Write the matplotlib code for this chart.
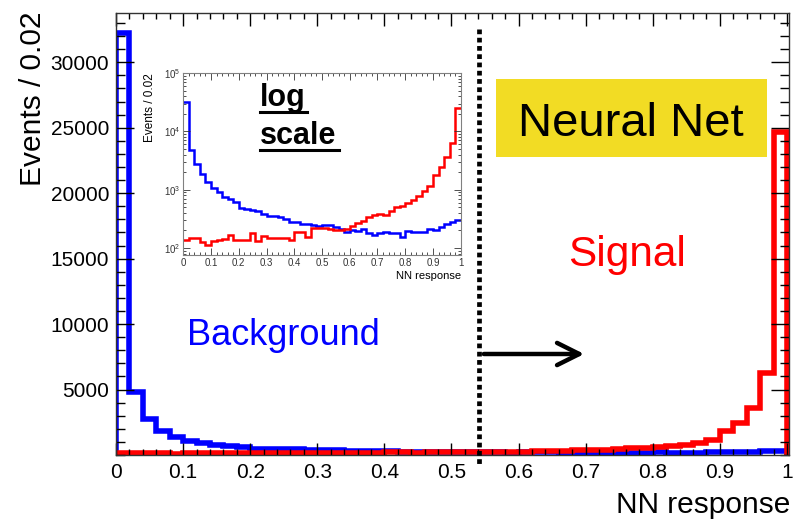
import numpy as np
import matplotlib
matplotlib.use("Agg")
import matplotlib.pyplot as plt
from matplotlib.ticker import MultipleLocator, FixedLocator, FuncFormatter, LogLocator, NullFormatter
from matplotlib.patches import Rectangle, FancyArrowPatch
from matplotlib.lines import Line2D

plt.rcParams["font.family"] = ["Liberation Sans", "DejaVu Sans"]
plt.rcParams["mathtext.fontset"] = "custom"
plt.rcParams["mathtext.rm"] = "Liberation Sans"
plt.rcParams["mathtext.it"] = "Liberation Sans:italic"

# NN response histograms, 50 bins of width 0.02
bin_edges = np.linspace(0.0, 1.0, 51)
background = [32200, 4830, 2720, 1850, 1380, 1070, 925, 760, 700, 605,
              490, 465, 452, 423, 381, 352, 352, 338, 316, 284,
              282, 257, 257, 246, 240, 250, 245, 233, 210, 185,
              205, 195, 215, 179, 170, 182, 188, 182, 182, 157,
              195, 185, 188, 188, 210, 205, 233, 260, 285, 300]
signal = [137, 147, 147, 128, 111, 134, 137, 143, 170, 137,
          137, 137, 184, 130, 163, 147, 147, 147, 147, 140,
          191, 191, 157, 221, 221, 219, 215, 205, 200, 215,
          240, 270, 290, 340, 375, 390, 370, 440, 500, 530,
          590, 670, 770, 935, 1170, 1800, 2420, 3600, 6300, 24700]
main_yticks = [5000, 10000, 15000, 20000, 25000, 30000]

W, H = 794, 521


def fx(px):
    return px / W


def fy(py):
    return 1 - py / H


fig = plt.figure(figsize=(W / 100, H / 100), dpi=100)

# ---- main axes (linear) ----
ax = fig.add_axes([fx(116), fy(455), (789 - 116) / W, (455 - 12.5) / H])
ax.stairs(background, bin_edges, color="#0000ff", lw=4.0)
ax.stairs(signal, bin_edges, color="#ff0000", lw=4.0)
ax.set_xlim(0, 1.003)
ax.set_ylim(0, 33800)
ax.xaxis.set_major_locator(MultipleLocator(0.1))
ax.xaxis.set_minor_locator(MultipleLocator(0.02))
ax.yaxis.set_major_locator(FixedLocator(main_yticks))
ax.yaxis.set_minor_locator(MultipleLocator(1000))
ax.xaxis.set_major_formatter(FuncFormatter(lambda v, p: "%g" % round(v, 2)))
ax.tick_params(which="both", direction="in", top=True, right=True, width=1.0,
               labelsize=15, colors="black")
ax.tick_params(axis="x", which="major", length=9, pad=6)
ax.tick_params(axis="x", which="minor", length=4.5)
ax.tick_params(axis="y", which="major", length=13, pad=5)
ax.tick_params(axis="y", which="minor", length=6.5)
for s in ax.spines.values():
    s.set_linewidth(1.0)
    s.set_color("#333333")

fig.text(fx(33), fy(12), "Events / 0.02", rotation=90, ha="center", va="top", fontsize=21.5)
fig.text(fx(790), fy(513), "NN response", ha="right", va="baseline", fontsize=21.5)

# cut line and arrow
fig.add_artist(Line2D([fx(479), fx(479)], [fy(29), fy(466)], color="black",
                      lw=3.4, dashes=(1.0, 0.75), transform=fig.transFigure))
fig.add_artist(FancyArrowPatch((fx(481), fy(354)), (fx(587), fy(354)),
                               transform=fig.transFigure, arrowstyle="->",
                               mutation_scale=40, lw=3.2, color="black"))

# labels
fig.add_artist(Rectangle((fx(496), fy(157)), (767 - 496) / W, (157 - 79) / H,
                         transform=fig.transFigure, facecolor="#f2dc24", edgecolor="none"))
fig.text(fx(631), fy(136), "Neural Net", ha="center", va="baseline", fontsize=34)
fig.text(fx(627), fy(266), "Signal", ha="center", va="baseline", fontsize=30.5, color="#ff0000")
fig.text(fx(283), fy(345), "Background", ha="center", va="baseline", fontsize=26, color="#0000ff")

# ---- inset (log scale) ----
ins = fig.add_axes([fx(183.3), fy(255), (460.7 - 183.3) / W, (255 - 73) / H])
ins.stairs(background, bin_edges, color="#0000ff", lw=1.8, baseline=None)
ins.stairs(signal, bin_edges, color="#ff0000", lw=1.8, baseline=None)
ins.set_yscale("log")
ins.set_xlim(0, 1)
ins.set_ylim(76, 1e5)
ins.xaxis.set_major_locator(MultipleLocator(0.1))
ins.xaxis.set_minor_locator(MultipleLocator(0.02))
ins.xaxis.set_major_formatter(FuncFormatter(lambda v, p: "%g" % round(v, 2)))
ins.yaxis.set_major_locator(LogLocator(base=10, numticks=10))
ins.yaxis.set_minor_locator(LogLocator(base=10, subs=np.arange(2, 10), numticks=20))
ins.yaxis.set_minor_formatter(NullFormatter())
ins.tick_params(which="both", direction="in", top=True, right=True, width=0.6,
                labelsize=7, colors="#333333", pad=2)
ins.tick_params(which="major", length=5)
ins.tick_params(which="minor", length=2.5)
for s in ins.spines.values():
    s.set_linewidth(0.8)
    s.set_color("#808080")

fig.text(fx(150), fy(73), "Events / 0.02", rotation=90, ha="center", va="top", fontsize=8.5)
fig.text(fx(461), fy(279), "NN response", ha="right", va="baseline", fontsize=8)

fig.text(fx(260), fy(106), "log", ha="left", va="baseline", fontsize=22, fontweight="bold")
fig.text(fx(260), fy(144), "scale", ha="left", va="baseline", fontsize=22, fontweight="bold")
fig.add_artist(Line2D([fx(260), fx(307)], [fy(111.5), fy(111.5)], color="black", lw=2.2,
                      transform=fig.transFigure))
fig.add_artist(Line2D([fx(260), fx(339)], [fy(149.5), fy(149.5)], color="black", lw=2.2,
                      transform=fig.transFigure))

fig.savefig("out.png", dpi=100)
